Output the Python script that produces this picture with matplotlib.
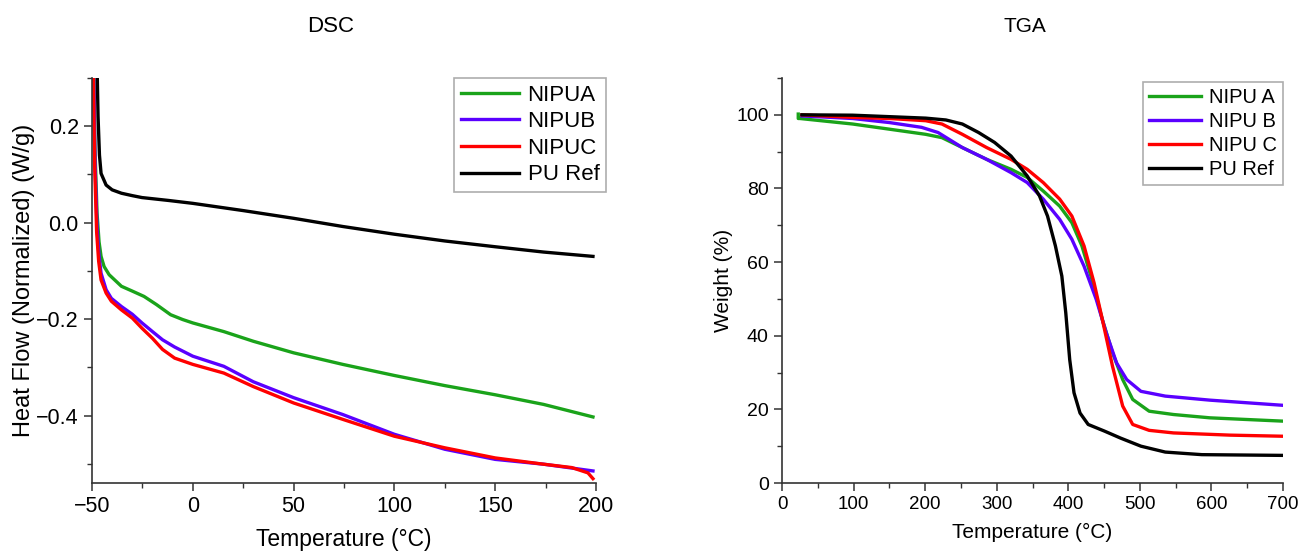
import numpy as np
import matplotlib
matplotlib.use("Agg")
import matplotlib.pyplot as plt
from matplotlib.ticker import MultipleLocator

plt.rcParams['font.family'] = ['Liberation Sans', 'DejaVu Sans']

# DSC data (temperature in C, heat flow in W/g)
dsc_a_t = [-49.3, -48.5, -47.5, -46.5, -45.5, -44.0, -41.5, -35.4, -30.0, -24.2, -18.0, -11.0, -5.0, 0.0, 15.4, 30.0, 50.0, 74.4, 100.0, 125.0, 150.0, 174.0, 198.5]
dsc_a_q = [0.35, 0.15, 0.02, -0.04, -0.07, -0.091, -0.108, -0.132, -0.142, -0.153, -0.170, -0.191, -0.201, -0.208, -0.226, -0.246, -0.270, -0.294, -0.317, -0.338, -0.357, -0.377, -0.403]

dsc_b_t = [-49.3, -48.5, -47.5, -46.5, -45.5, -43.0, -40.4, -35.4, -30.0, -25.2, -20.0, -15.0, -9.0, 0.0, 15.4, 30.0, 50.0, 74.4, 100.0, 125.0, 150.0, 174.0, 198.5]
dsc_b_q = [0.35, 0.12, -0.01, -0.07, -0.105, -0.139, -0.157, -0.174, -0.190, -0.208, -0.226, -0.243, -0.258, -0.277, -0.298, -0.330, -0.363, -0.398, -0.439, -0.470, -0.491, -0.501, -0.515]

dsc_c_t = [-49.5, -48.7, -47.7, -46.7, -45.5, -43.0, -40.4, -35.4, -30.0, -25.2, -20.0, -15.0, -9.0, 0.0, 15.4, 30.0, 50.0, 74.4, 100.0, 125.0, 150.0, 174.0, 188.0, 196.0, 198.5]
dsc_c_q = [0.35, 0.12, -0.02, -0.08, -0.119, -0.146, -0.163, -0.181, -0.198, -0.219, -0.240, -0.263, -0.281, -0.294, -0.312, -0.340, -0.374, -0.408, -0.443, -0.467, -0.488, -0.501, -0.508, -0.519, -0.531]

dsc_ref_t = [-47.6, -47.0, -46.3, -45.5, -43.0, -40.0, -35.4, -30.0, -25.2, -12.0, 0.0, 25.0, 50.0, 74.4, 100.0, 125.0, 150.0, 174.0, 198.5]
dsc_ref_q = [0.35, 0.22, 0.14, 0.102, 0.078, 0.068, 0.061, 0.056, 0.052, 0.046, 0.040, 0.025, 0.009, -0.008, -0.024, -0.038, -0.050, -0.061, -0.070]

# TGA data (temperature in C, weight in %)
tga_a_t = [22.7, 22.7, 25, 98.7, 150, 200.8, 223.5, 252, 286, 320, 342.6, 365, 388, 405, 419, 433, 447.6, 461.8, 476, 490, 513, 547, 598, 700]
tga_a_w = [100.2, 99.0, 99.0, 97.5, 96.1, 94.7, 93.8, 91.1, 87.9, 85.2, 83.0, 79.3, 75.2, 70.7, 64.4, 55.3, 44.4, 35.4, 28.1, 22.7, 19.5, 18.6, 17.7, 16.8]

tga_b_t = [28, 98.7, 150, 195, 218, 252, 286, 320, 342.6, 365, 388, 405, 422, 439, 453, 467.5, 481.6, 501.5, 535.5, 598, 700]
tga_b_w = [99.7, 99.0, 97.9, 96.6, 95.2, 91.1, 87.9, 84.3, 81.6, 77.1, 71.6, 66.2, 58.9, 49.9, 40.8, 32.6, 28.1, 24.9, 23.6, 22.5, 21.1]

tga_c_t = [28, 98.7, 150, 200.8, 223.5, 252, 286, 320, 342.6, 365, 388, 405, 422, 436, 447.6, 461.8, 476, 490, 513, 547, 626, 700]
tga_c_w = [100.0, 99.3, 99.0, 98.4, 97.5, 94.7, 91.1, 87.9, 85.2, 81.6, 77.1, 72.5, 64.4, 54.4, 44.4, 31.7, 20.9, 15.9, 14.3, 13.6, 13.0, 12.7]

tga_ref_t = [27.8, 98.7, 150, 200.8, 229, 252, 274.6, 297, 320, 342.6, 359.7, 371, 382, 391, 396.5, 402, 408, 416.4, 427.8, 450.5, 473, 501.5, 535.5, 586.6, 700]
tga_ref_w = [100.0, 99.9, 99.5, 99.1, 98.6, 97.5, 95.2, 92.5, 88.8, 83.4, 78.0, 72.5, 64.4, 56.2, 46.2, 33.5, 24.5, 19.0, 15.9, 14.1, 12.2, 10.0, 8.4, 7.7, 7.5]

green = '#1aa31a'
blue = '#5a00ff'
red = '#ff0000'
black = '#000000'
lw = 2.4

fig = plt.figure(figsize=(12.99, 5.52), dpi=100)
ax1 = fig.add_axes([92/1299, 1-483/552, 504/1299, 405/552])
ax2 = fig.add_axes([782/1299, 1-483/552, 501/1299, 405/552])

ax1.plot(dsc_a_t, dsc_a_q, color=green, lw=lw, label='NIPUA')
ax1.plot(dsc_b_t, dsc_b_q, color=blue, lw=lw, label='NIPUB')
ax1.plot(dsc_c_t, dsc_c_q, color=red, lw=lw, label='NIPUC')
ax1.plot(dsc_ref_t, dsc_ref_q, color=black, lw=lw, label='PU Ref')
ax1.set_xlim(-50, 200)
ax1.set_ylim(-0.54, 0.3)
ax1.set_xticks([-50, 0, 50, 100, 150, 200])
ax1.set_xticklabels(['\u221250', '0', '50', '100', '150', '200'])
ax1.set_yticks([-0.4, -0.2, 0.0, 0.2])
ax1.set_yticklabels(['\u22120.4', '\u22120.2', '0.0', '0.2'])
ax1.xaxis.set_minor_locator(MultipleLocator(25))
ax1.yaxis.set_minor_locator(MultipleLocator(0.1))
ax1.set_xlabel('Temperature (\u00b0C)', fontsize=16.5, labelpad=8)
ax1.set_ylabel('Heat Flow (Normalized) (W/g)', fontsize=17, labelpad=1)

ax2.plot(tga_a_t, tga_a_w, color=green, lw=lw, label='NIPU A')
ax2.plot(tga_b_t, tga_b_w, color=blue, lw=lw, label='NIPU B')
ax2.plot(tga_c_t, tga_c_w, color=red, lw=lw, label='NIPU C')
ax2.plot(tga_ref_t, tga_ref_w, color=black, lw=lw, label='PU Ref')
ax2.set_xlim(0, 700)
ax2.set_ylim(0, 110)
ax2.set_xticks(np.arange(0, 701, 100))
ax2.set_yticks(np.arange(0, 101, 20))
ax2.xaxis.set_minor_locator(MultipleLocator(50))
ax2.yaxis.set_minor_locator(MultipleLocator(10))
ax2.set_xlabel('Temperature (\u00b0C)', fontsize=15, labelpad=7)
ax2.set_ylabel('Weight (%)', fontsize=15, labelpad=2)

for ax, fx, fy in [(ax1, 15.5, 15.5), (ax2, 13.5, 14)]:
    ax.spines['top'].set_visible(False)
    ax.spines['right'].set_visible(False)
    for s in ['left', 'bottom']:
        ax.spines[s].set_color('#333333')
        ax.spines[s].set_linewidth(1.2)
    ax.tick_params(which='major', length=6, width=1.1, color='#333333')
    ax.tick_params(which='minor', length=3.5, width=1.0, color='#333333')
    ax.tick_params(axis='x', labelsize=fx)
    ax.tick_params(axis='y', labelsize=fy)

leg_kw = dict(loc='upper right', frameon=True, fancybox=False, handlelength=2.6,
              handletextpad=0.4, borderpad=0.3, labelspacing=0.25, borderaxespad=0)
l1 = ax1.legend(fontsize=16, bbox_to_anchor=(1.02, 1.0), **leg_kw)
l2 = ax2.legend(fontsize=14.5, bbox_to_anchor=(1.0, 0.99), **leg_kw)
for lg in (l1, l2):
    lg.get_frame().set_edgecolor('#999999')
    lg.get_frame().set_linewidth(1.2)

fig.text(331/1299, 1-27/552, 'DSC', ha='center', va='center', fontsize=16)
fig.text(1025/1299, 1-27/552, 'TGA', ha='center', va='center', fontsize=15)

fig.savefig('out.png', dpi=100)
